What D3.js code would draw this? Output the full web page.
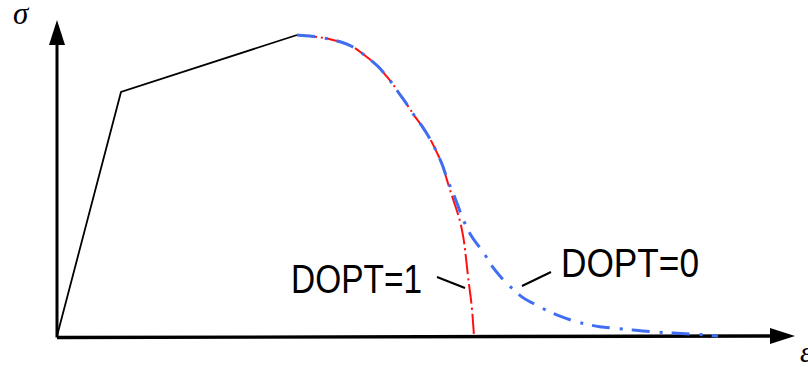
<!DOCTYPE html>
<html>
<head>
<meta charset="utf-8">
<script src="https://cdn.jsdelivr.net/npm/d3@7/dist/d3.min.js"></script>
<style>
  html, body { margin: 0; padding: 0; background: #fff; }
  svg { display: block; }
</style>
</head>
<body>
<svg id="chart" width="808" height="369"></svg>
<script>
// Stress–strain envelope: elastic branch, hardening branch, then softening
// with two damage options (DOPT=1 abrupt, DOPT=0 gradual).

// Linear part: origin -> yield -> peak  [strain, stress]
const elasticHardening = [[0, 0], [3.2, 12.2], [12.0, 15.05]];

// Softening shared by both options
const softeningShared = [
  [12.0, 15.05], [12.65, 15.0], [13.15, 14.93], [13.65, 14.85], [14.15, 14.72],
  [14.65, 14.55], [15.05, 14.3], [15.5, 13.95], [15.8, 13.7], [16.15, 13.4],
  [16.5, 12.95], [16.8, 12.6], [17.05, 12.2], [17.35, 11.8], [17.65, 11.35],
  [17.9, 10.95], [18.3, 10.45], [18.75, 9.7], [19.0, 9.15], [19.25, 8.65]
];

// DOPT=1 tail (drops quickly to zero)
const tailDopt1 = [
  [19.45, 7.95], [19.65, 7.3], [19.9, 6.55], [20.15, 5.8], [20.3, 5.05],
  [20.4, 4.4], [20.55, 2.95], [20.65, 2.2], [20.75, 1.45], [20.85, 0]
];

// DOPT=0 tail (long decaying tail)
const tailDopt0 = [
  [19.55, 7.7], [19.75, 7.3], [20.0, 6.65], [20.25, 5.95], [20.45, 5.5],
  [20.65, 5.1], [20.95, 4.65], [21.25, 4.3], [21.5, 3.9], [21.8, 3.4],
  [22.15, 3.0], [22.4, 2.7], [22.8, 2.35], [23.15, 2.0], [23.65, 1.7],
  [24.0, 1.55], [24.5, 1.25], [25.0, 1.05], [25.8, 0.75], [26.4, 0.6],
  [27.15, 0.45], [27.8, 0.4], [28.8, 0.3], [29.8, 0.2], [30.8, 0.15],
  [31.8, 0.1], [33.05, 0.0]
];

// Label texts and the points their leader lines connect
const curveLabels = ["DOPT=1", "DOPT=0"];
const labelAnchors = [[19.0, 2.95], [23.25, 2.5]];
const leaderEnds   = [[20.4, 2.4],  [24.7, 3.2]];
const axisLabels = ["σ", "ε"];

const svg = d3.select("#chart");

const x = d3.scaleLinear().domain([0, 36.9]).range([57, 795]);
const y = d3.scaleLinear().domain([0, 15.8]).range([336, 20]);

const line = d3.line().x(d => x(d[0])).y(d => y(d[1]));
const smooth = d3.line().x(d => x(d[0])).y(d => y(d[1])).curve(d3.curveBasis);

// Axes with arrowheads
const x0 = x(0), y0 = y(0), xEnd = x.range()[1], yEnd = y.range()[1];
svg.append("line")
  .attr("x1", x0).attr("y1", y0 + 1.5).attr("x2", xEnd - 20).attr("y2", y0)
  .attr("stroke", "#000").attr("stroke-width", 3.4);
svg.append("line")
  .attr("x1", x0).attr("y1", y0 + 1.5).attr("x2", x0).attr("y2", yEnd + 20)
  .attr("stroke", "#000").attr("stroke-width", 3);
svg.append("path")
  .attr("d", `M${xEnd},${y0} L${xEnd - 25},${y0 - 8} L${xEnd - 25},${y0 + 8} Z`)
  .attr("fill", "#000");
svg.append("path")
  .attr("d", `M${x0},${yEnd} L${x0 - 8},${yEnd + 25} L${x0 + 8},${yEnd + 25} Z`)
  .attr("fill", "#000");

// Axis symbols
svg.append("text")
  .attr("x", 13).attr("y", 24)
  .attr("font-family", "'Liberation Serif', 'DejaVu Serif', serif")
  .attr("font-style", "italic").attr("font-size", 31)
  .text(axisLabels[0]);
svg.append("text")
  .attr("x", 800).attr("y", 362)
  .attr("font-family", "'Liberation Serif', 'DejaVu Serif', serif")
  .attr("font-style", "italic").attr("font-size", 30)
  .text(axisLabels[1]);

// Elastic + hardening branch
svg.append("path")
  .attr("d", line(elasticHardening))
  .attr("fill", "none").attr("stroke", "#000").attr("stroke-width", 1.8)
  .attr("stroke-linejoin", "miter");

// DOPT=1 softening (drawn first, underneath)
svg.append("path")
  .attr("d", smooth(softeningShared.concat(tailDopt1)))
  .attr("fill", "none").attr("stroke", "#ff1010").attr("stroke-width", 2)
  .attr("stroke-dasharray", "20,4,2,4");

// DOPT=0 softening
svg.append("path")
  .attr("d", smooth(softeningShared.concat(tailDopt0)))
  .attr("fill", "none").attr("stroke", "#3f6ef2").attr("stroke-width", 3)
  .attr("stroke-dasharray", "18,10,3,9");

// Leader lines and labels
svg.selectAll("line.leader")
  .data(curveLabels)
  .join("line").attr("class", "leader")
  .attr("x1", (d, i) => x(labelAnchors[i][0]))
  .attr("y1", (d, i) => y(labelAnchors[i][1]))
  .attr("x2", (d, i) => x(leaderEnds[i][0]))
  .attr("y2", (d, i) => y(leaderEnds[i][1]))
  .attr("stroke", "#000").attr("stroke-width", 2);

const labelPos = [[291, 293, 131], [561, 277, 138]];
svg.selectAll("text.lbl")
  .data(curveLabels)
  .join("text").attr("class", "lbl")
  .attr("x", (d, i) => labelPos[i][0])
  .attr("y", (d, i) => labelPos[i][1])
  .attr("textLength", (d, i) => labelPos[i][2])
  .attr("lengthAdjust", "spacingAndGlyphs")
  .attr("font-family", "'Liberation Sans Narrow', 'Liberation Sans', Arial, sans-serif")
  .attr("font-size", 41)
  .attr("fill", "#000")
  .text(d => d);
</script>
</body>
</html>
